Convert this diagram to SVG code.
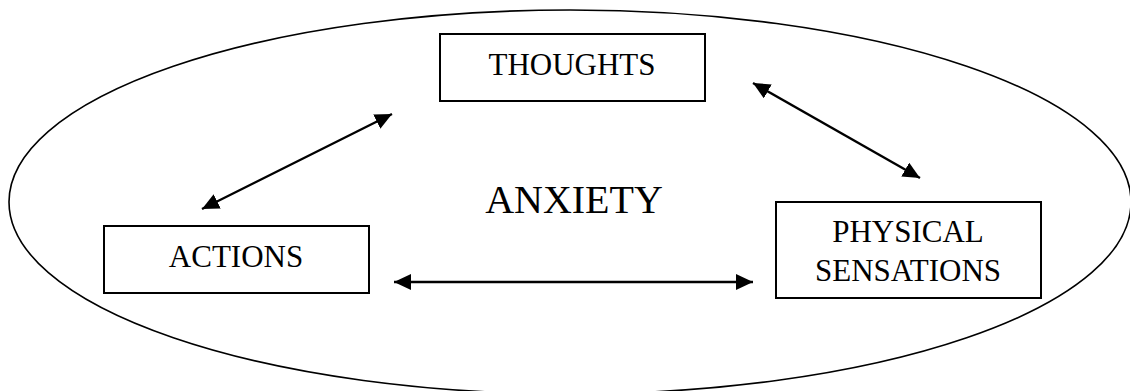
<svg xmlns="http://www.w3.org/2000/svg" width="1130" height="391" viewBox="0 0 1130 391">
<style>
.box{fill:#fff;stroke:#000;stroke-width:2}
.lbl{font-family:"Liberation Serif","Times New Roman",serif;font-size:31px;fill:#000;text-anchor:middle}
.conn{stroke:#000;stroke-width:2.4;fill:none;marker-start:url(#ah);marker-end:url(#ah)}
</style>
<defs>
<marker id="ah" viewBox="0 0 17 16" refX="17" refY="8" markerWidth="17" markerHeight="16" markerUnits="userSpaceOnUse" orient="auto-start-reverse">
<path d="M0,0 L17,8 L0,16 z" fill="#000"/>
</marker>
</defs>
<rect width="1130" height="391" fill="#fff"/>
<g id="anxiety">
<ellipse cx="570" cy="202" rx="561" ry="192" fill="none" stroke="#000" stroke-width="1.6"/>
<text class="lbl" x="574" y="213" style="font-size:40px">ANXIETY</text>
</g>
<g id="thoughts">
<rect class="box" x="440" y="34" width="265" height="67"/>
<text class="lbl" x="572" y="75">THOUGHTS</text>
</g>
<g id="actions">
<rect class="box" x="104" y="226" width="265" height="67"/>
<text class="lbl" x="236" y="267">ACTIONS</text>
</g>
<g id="physical">
<rect class="box" x="776" y="202" width="265" height="96"/>
<text class="lbl" x="908" y="242">PHYSICAL</text>
<text class="lbl" x="908" y="281">SENSATIONS</text>
</g>
<g id="connectors">
<line class="conn" x1="202" y1="209" x2="392" y2="114"/>
<line class="conn" x1="753" y1="83" x2="920" y2="178"/>
<line class="conn" x1="394" y1="282" x2="753" y2="282"/>
</g>
</svg>
